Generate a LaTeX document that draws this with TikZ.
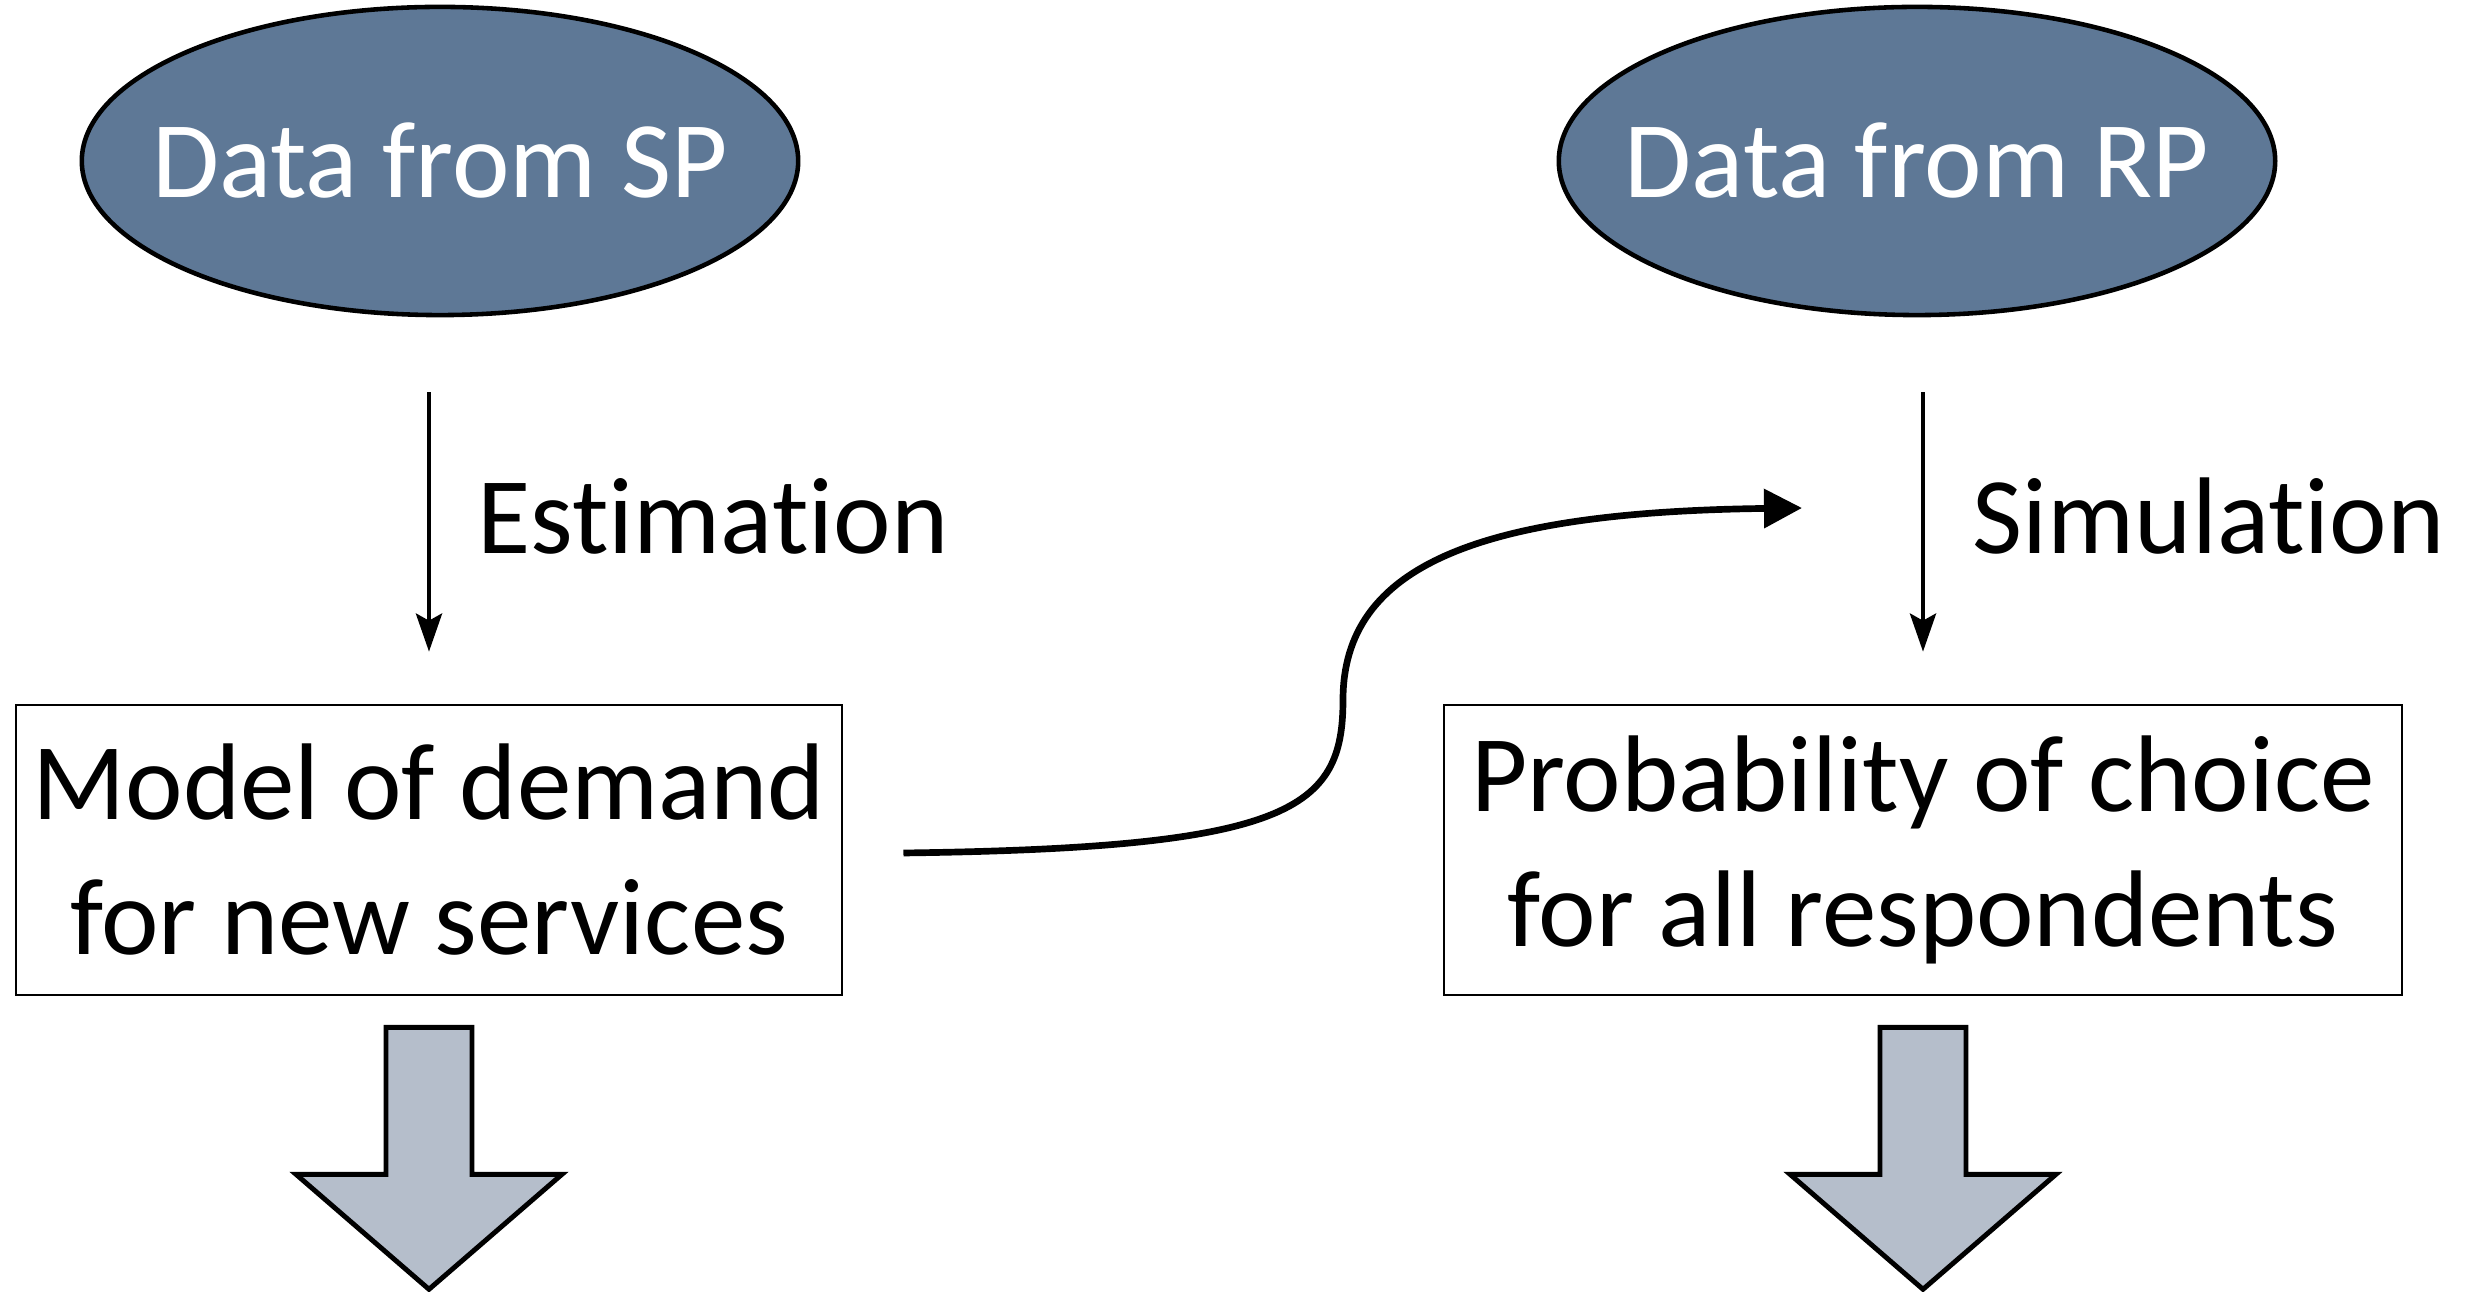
\documentclass[tikz,border=0pt]{standalone}
\usepackage{fontspec}
\setmainfont{Carlito}[RawFeature=-liga]
\usetikzlibrary{shapes.geometric,arrows.meta,calc}
\definecolor{SPBlue}{HTML}{5E7896}
\definecolor{ArrowGray}{HTML}{B5BECB}
\tikzset{
    datum/.style = {draw, ellipse, line width=1.3pt, fill=SPBlue, text=white,
        inner xsep=-1cm,
        minimum width=7.16cm,
        minimum height=3.08cm},
    block/.style = {draw, rectangle, line width=0.7pt, align=center,
        minimum height=2.9cm, inner sep=0pt},
    arrow/.style = {draw, line width=1.3pt, -{Stealth[length=0.38cm,width=0.26cm,inset=0.07cm]}},
    link/.style = {draw, line width=1.9pt, -{Triangle[length=0.38cm,width=0.38cm]}},
    bigarrow/.style = {draw, line width=1.4pt, fill=ArrowGray},
    tag/.style = {anchor=base west, inner sep=0pt}
}

\begin{document}
\begin{tikzpicture}[x=0.01cm,y=-0.01cm,font=\fontsize{31pt}{38.4pt}\selectfont]
    \useasboundingbox (0,0) rectangle (2468,1292);
    % sources
    \node[datum] (sp) at (440,161) {Data from SP};
    \node[datum] (rp) at (1917,161) {Data from RP};
    % results
    \node[block, minimum width=8.26cm] (model) at (429,850) {Model of demand\\for new services};
    \node[block, minimum width=9.57cm] (prob) at (1923,850) {Probability of choice\\for all respondents};
    % steps
    \draw[arrow, shorten <=0.75cm, shorten >=0.52cm] (sp.south -| model.north) -- (model.north);
    \draw[arrow, shorten <=0.75cm, shorten >=0.52cm] (rp.south -| prob.north) -- (prob.north);
    \node[tag] (est) at (477,554) {Estimation};
    \node[tag] (sim) at (1972,554) {Simulation};
    % model goes into the simulation
    \coordinate (hook) at (1802,508);
    \draw[link] ($(model.east)+(60,3)$) .. controls (1290,848) and (1343,810) .. (1343,700)
        .. controls (1343,565) and (1480,512) .. (hook);
    % outputs
    \foreach \b in {model,prob} {
        \draw[bigarrow] (\b.south) ++(-43,31) -- ++(86,0) -- ++(0,147) -- ++(90,0)
            -- ++(-133,115) -- ++(-133,-115) -- ++(90,0) -- cycle;
    }
\end{tikzpicture}
\end{document}
